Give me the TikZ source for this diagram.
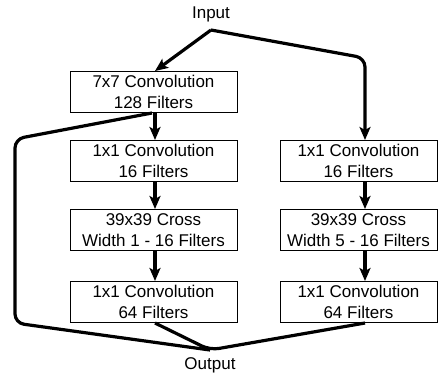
\documentclass[tikz,border=0pt]{standalone}
\usepackage{fontspec}
\setmainfont{Liberation Sans}
\usetikzlibrary{arrows.meta}
\begin{document}
\begin{tikzpicture}[x=1pt,y=-1pt,
  box/.style={draw,line width=1pt,minimum height=41pt,inner sep=0pt,align=center,font=\fontsize{17}{21.5}\selectfont},
  lbl/.style={font=\fontsize{17}{21.5}\selectfont,inner sep=0pt},
  conn/.style={line width=3.2pt,rounded corners=9pt},
  arr/.style={conn,-{Stealth[length=13pt,width=11pt,inset=3pt]}}]
\useasboundingbox (0,0) rectangle (442,376);
\node[lbl] (inp) at (211,14) {Input};
\node[box,minimum width=167pt] (l1) at (153.5,92) {7x7 Convolution\\128 Filters};
\node[box,minimum width=167pt] (l2) at (153.5,161) {1x1 Convolution\\16 Filters};
\node[box,minimum width=167pt] (l3) at (153.5,230) {39x39 Cross\\Width 1 - 16 Filters};
\node[box,minimum width=167pt] (l4) at (153.5,302) {1x1 Convolution\\64 Filters};
\node[box,minimum width=157pt] (r2) at (358.5,161) {1x1 Convolution\\16 Filters};
\node[box,minimum width=157pt] (r3) at (358.5,230) {39x39 Cross\\Width 5 - 16 Filters};
\node[box,minimum width=157pt] (r4) at (358.5,302) {1x1 Convolution\\64 Filters};
\node[lbl] (out) at (210,365) {Output};
\coordinate (split) at (211,30);
\coordinate (merge) at (210,350);
\coordinate (rc) at (365,58);
\coordinate (sa) at (15,139);
\coordinate (sb) at (15,323);
\draw[arr] (split) -- (l1.north -| 155,0);
\draw[arr] (split) -- (rc) -- (r2.north -| 365,0);
\draw[arr] (l1.south -| 155,0) -- (l2.north -| 155,0);
\draw[arr] (l2.south -| 155,0) -- (l3.north -| 155,0);
\draw[arr] (l3.south -| 155,0) -- (l4.north -| 155,0);
\draw[arr] (r2.south -| 365,0) -- (r3.north -| 365,0);
\draw[arr] (r3.south -| 365,0) -- (r4.north -| 365,0);
\draw[conn] (l1.south -| 152,0) -- (sa) -- (sb) -- (merge);
\draw[conn,line join=round] (l4.south -| 155,0) -- (merge) -- (r4.south -| 365,0);
\end{tikzpicture}
\end{document}
